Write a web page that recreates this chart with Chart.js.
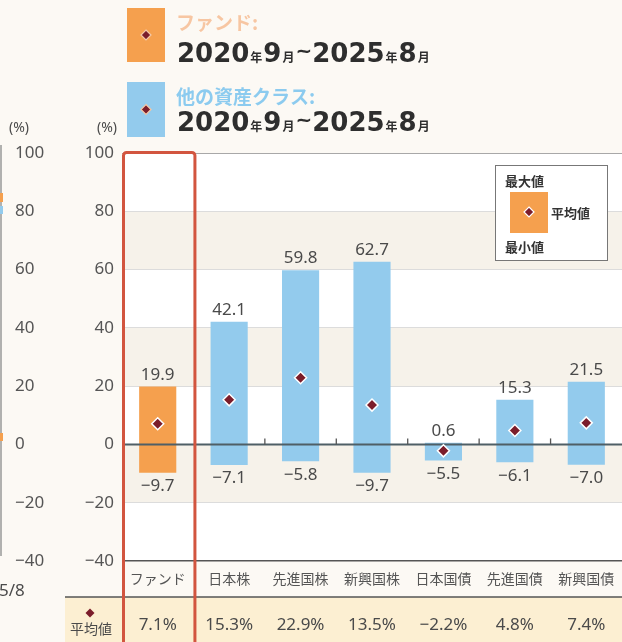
<!DOCTYPE html>
<html>
<head>
<meta charset="utf-8">
<script src="https://cdn.jsdelivr.net/npm/chart.js@4/dist/chart.umd.min.js"></script>
<style>
  html, body { margin: 0; padding: 0; background: #fcf9f4; }
  #wrap { width: 622px; height: 642px; position: relative; }
</style>
</head>
<body>
<div id="wrap"><canvas id="rangeChart"></canvas></div>
<script>
/* ---------- data ---------- */
const CATEGORIES  = ['ファンド', '日本株', '先進国株', '新興国株', '日本国債', '先進国債', '新興国債'];
const MAX_VALUES  = [19.9, 42.1, 59.8, 62.7, 0.6, 15.3, 21.5];
const MIN_VALUES  = [-9.7, -7.1, -5.8, -9.7, -5.5, -6.1, -7.0];
const MEAN_VALUES = [7.1, 15.3, 22.9, 13.5, -2.2, 4.8, 7.4];
const Y_TICKS     = [100, 80, 60, 40, 20, 0, -20, -40];
const HEADER_LABELS = ['ファンド:', '他の資産クラス:'];
const PERIOD      = ['2020', '年', '9', '月', '~', '2025', '年', '8', '月'];
const LEGEND_TEXT = ['最大値', '平均値', '最小値'];

/* ---------- colours ---------- */
const COLORS = {
  page    : '#fcf9f4',
  stripe  : '#f6f2ea',
  fund    : '#f5a04e',
  other   : '#93cbed',
  diamond : '#7b1d2b',
  text    : '#4a4a4a',
  zero    : '#4f5f66',
  meanRow : '#fcefd2',
  redBox  : '#d2553f',
  fundHdr : '#f7c6a2',
  otherHdr: '#8ccbef'
};

/* ---------- tiny utils ---------- */
const fmt  = v => (v < 0 ? '−' : '') + Math.abs(v).toFixed(1);
const tick = v => (v < 0 ? '−' + Math.abs(v) : String(v));
const JP   = '"Noto Sans CJK JP", "Noto Sans", sans-serif';
const NUM  = '"Noto Sans", "DejaVu Sans", sans-serif';

const diamond = (ctx, x, y, r, fill, stroke) => {
  ctx.beginPath();
  ctx.moveTo(x, y - r); ctx.lineTo(x + r, y); ctx.lineTo(x, y + r); ctx.lineTo(x - r, y);
  ctx.closePath();
  ctx.fillStyle = fill; ctx.fill();
  if (stroke) { ctx.strokeStyle = stroke; ctx.lineWidth = 1.2; ctx.stroke(); }
};

/* ---------- background: page, stripes, mean row ---------- */
const backdrop = {
  id: 'backdrop',
  beforeDraw(chart) {
    const { ctx, chartArea: a, scales: { y, x2 } } = chart;
    ctx.save();
    ctx.fillStyle = COLORS.page;
    ctx.fillRect(0, 0, chart.width, chart.height);
    for (let i = 0; i < Y_TICKS.length - 1; i++) {
      const t = y.getPixelForValue(Y_TICKS[i]), b = y.getPixelForValue(Y_TICKS[i + 1]);
      ctx.fillStyle = i % 2 ? COLORS.stripe : '#ffffff';
      ctx.fillRect(a.left, t, a.right - a.left, b - t);
    }
    ctx.fillStyle = COLORS.meanRow;
    ctx.fillRect(65, x2.top, chart.width - 65, x2.bottom - x2.top);
    ctx.restore();
  },
  afterDatasetDraw(chart, args) {
    if (args.index !== 0) return;
    const { ctx, chartArea: a, scales: { x, y } } = chart;
    const y0 = y.getPixelForValue(0);
    ctx.save();
    ctx.strokeStyle = COLORS.zero; ctx.lineWidth = 2;
    ctx.beginPath(); ctx.moveTo(a.left, y0); ctx.lineTo(a.right, y0); ctx.stroke();
    // little ticks at category boundaries on the zero line
    ctx.lineWidth = 1.3; ctx.strokeStyle = '#555';
    for (let i = 2; i < CATEGORIES.length; i++) {
      const bx = (x.getPixelForValue(i - 1) + x.getPixelForValue(i)) / 2;
      ctx.beginPath(); ctx.moveTo(bx, y0 - 6); ctx.lineTo(bx, y0); ctx.stroke();
    }
    ctx.restore();
  }
};

/* ---------- decorations: labels, legend, header, frame ---------- */
const decor = {
  id: 'decor',
  afterDraw(chart) {
    const { ctx, chartArea: a, scales: { x, y, x2 } } = chart;
    ctx.save();

    /* max / min value labels */
    const bars = chart.getDatasetMeta(0).data;
    ctx.font = `17px ${NUM}`; ctx.fillStyle = COLORS.text; ctx.textAlign = 'center';
    bars.forEach((bar, i) => {
      ctx.textBaseline = 'bottom';
      ctx.fillText(fmt(MAX_VALUES[i]), bar.x, y.getPixelForValue(MAX_VALUES[i]) - 3);
      ctx.textBaseline = 'top';
      ctx.fillText(fmt(MIN_VALUES[i]), bar.x, y.getPixelForValue(MIN_VALUES[i]) + 5);
    });

    /* row separator above mean row */
    ctx.strokeStyle = '#555'; ctx.lineWidth = 1.5;
    ctx.beginPath(); ctx.moveTo(65, x2.top); ctx.lineTo(chart.width, x2.top); ctx.stroke();

    /* mean row caption */
    diamond(ctx, 90, x2.top + 16, 4.5, COLORS.diamond);
    ctx.font = `14px ${JP}`; ctx.fillStyle = COLORS.text;
    ctx.textAlign = 'center'; ctx.textBaseline = 'middle';
    ctx.fillText('平均値', 91, x2.top + 32);

    /* (%) units */
    ctx.font = `14px ${NUM}`; ctx.textBaseline = 'middle';
    ctx.textAlign = 'right'; ctx.fillText('(%)', y.right - 5, 128);
    ctx.textAlign = 'left';  ctx.fillText('(%)', 9, 128);

    /* remnants of the neighbouring chart on the left */
    ctx.strokeStyle = '#999'; ctx.lineWidth = 1.5;
    ctx.beginPath(); ctx.moveTo(1, 145); ctx.lineTo(1, 556); ctx.stroke();
    ctx.fillStyle = COLORS.fund;  ctx.fillRect(0, 193, 3, 9); ctx.fillRect(0, 433, 3, 8);
    ctx.fillStyle = COLORS.other; ctx.fillRect(0, 206, 3, 8);
    ctx.font = `17px ${NUM}`; ctx.fillStyle = COLORS.text;
    ctx.textAlign = 'left'; ctx.textBaseline = 'middle';
    ctx.fillText('5/8', -1, 591);

    /* legend box */
    const lx = a.right - 127, ly = a.top + 12;
    ctx.fillStyle = '#ffffff'; ctx.fillRect(lx, ly, 112, 95);
    ctx.strokeStyle = '#777'; ctx.lineWidth = 1; ctx.strokeRect(lx + 0.5, ly + 0.5, 112, 95);
    ctx.fillStyle = COLORS.fund; ctx.fillRect(lx + 15, ly + 27, 38, 41);
    diamond(ctx, lx + 34, ly + 47, 5, COLORS.diamond, '#fff');
    ctx.font = `bold 13px ${JP}`; ctx.fillStyle = '#333';
    ctx.textAlign = 'left'; ctx.textBaseline = 'middle';
    ctx.fillText(LEGEND_TEXT[0], lx + 10, ly + 16);
    ctx.fillText(LEGEND_TEXT[1], lx + 56, ly + 48);
    ctx.fillText(LEGEND_TEXT[2], lx + 10, ly + 82);

    /* header keys */
    const keys = [
      { top: 8,  h: 54, fill: COLORS.fund,  col: COLORS.fundHdr,  lab: HEADER_LABELS[0], lb: 30,  db: 62 },
      { top: 82, h: 55, fill: COLORS.other, col: COLORS.otherHdr, lab: HEADER_LABELS[1], lb: 104, db: 131 }
    ];
    keys.forEach(k => {
      ctx.fillStyle = k.fill; ctx.fillRect(127, k.top, 38, k.h);
      diamond(ctx, 146, k.top + k.h / 2, 5, COLORS.diamond, '#f3c9a8');
      ctx.font = `bold 19px ${JP}`; ctx.fillStyle = k.col;
      ctx.textAlign = 'left'; ctx.textBaseline = 'alphabetic';
      ctx.fillText(k.lab, 176, k.lb);
      let px = 177;
      PERIOD.forEach(part => {
        const big = /\d/.test(part), tilde = part === '~';
        ctx.font = big ? 'bold 26px "DejaVu Sans", sans-serif'
                 : tilde ? 'bold 20px "DejaVu Sans", sans-serif'
                 : `bold 12px ${JP}`;
        ctx.fillStyle = '#2e2e2e';
        const gap = big || tilde ? 0 : 1;
        ctx.fillText(part, px + gap, tilde ? k.db - 5 : k.db);
        px += ctx.measureText(part).width + gap * 2;
      });
    });

    /* red frame around the fund column */
    const half = (x.getPixelForValue(1) - x.getPixelForValue(0)) / 2;
    const fx0 = x.getPixelForValue(0) - half + 1.5, fx1 = x.getPixelForValue(0) + half + 1.5;
    ctx.strokeStyle = COLORS.redBox; ctx.lineWidth = 3;
    ctx.beginPath();
    ctx.roundRect(fx0, a.top - 0.5, fx1 - fx0, chart.height + 20 - a.top, 3);
    ctx.stroke();

    ctx.restore();
  }
};

/* ---------- chart ---------- */
new Chart(document.getElementById('rangeChart'), {
  type: 'bar',
  data: {
    labels: CATEGORIES,
    datasets: [
      {
        label: 'range',
        data: CATEGORIES.map((_, i) => [MIN_VALUES[i], MAX_VALUES[i]]),
        backgroundColor: CATEGORIES.map((_, i) => i === 0 ? COLORS.fund : COLORS.other),
        borderWidth: 0,
        barPercentage: 0.52,
        categoryPercentage: 1,
        order: 2
      },
      {
        type: 'line',
        label: 'mean',
        data: MEAN_VALUES,
        showLine: false,
        pointStyle: 'rectRot',
        pointRadius: 6,
        pointHoverRadius: 6,
        pointBackgroundColor: COLORS.diamond,
        pointBorderColor: '#ffffff',
        pointBorderWidth: 1.5,
        order: 1
      }
    ]
  },
  options: {
    responsive: true,
    maintainAspectRatio: false,
    animation: false,
    devicePixelRatio: 1,
    layout: { autoPadding: false, padding: { top: 153, left: 15, right: 0, bottom: 0 } },
    plugins: { legend: { display: false }, tooltip: { enabled: false } },
    scales: {
      x: {
        position: 'bottom',
        grid: { display: false, drawTicks: false },
        border: { display: false },
        ticks: { font: { family: JP, size: 14, lineHeight: '36px' }, color: '#555', padding: 0, autoSkip: false, maxRotation: 0 },
        afterFit: s => { s.height = 36; }
      },
      x2: {
        type: 'category',
        position: 'bottom',
        weight: 1,
        offset: true,
        labels: MEAN_VALUES.map(v => fmt(v) + '%'),
        grid: { display: false, drawTicks: false },
        border: { display: false },
        ticks: { font: { family: NUM, size: 17, lineHeight: '57px' }, color: COLORS.text, padding: 0, autoSkip: false, maxRotation: 0 },
        afterFit: s => { s.height = 45; }
      },
      y: {
        position: 'left',
        min: -40, max: 100,
        afterBuildTicks: s => { s.ticks = Y_TICKS.map(v => ({ value: v })); },
        grid: {
          drawTicks: false,
          color: c => c.tick.value === 0 ? 'rgba(0,0,0,0)'
                    : c.tick.value === -40 ? '#555'
                    : c.tick.value === 100 ? '#a8a8a8' : '#dcdcdc',
          lineWidth: c => c.tick.value === -40 ? 1.5 : 1
        },
        border: { display: false },
        ticks: { callback: tick, font: { family: NUM, size: 17 }, color: '#555', padding: 8 },
        afterFit: s => { s.width = 72; }
      },
      y2: {
        position: 'left',
        weight: 1,
        min: -40, max: 100,
        afterBuildTicks: s => { s.ticks = Y_TICKS.map(v => ({ value: v })); },
        grid: { display: false, drawTicks: false },
        border: { display: false },
        ticks: { callback: tick, font: { family: NUM, size: 17 }, color: '#555', crossAlign: 'far', padding: 0 },
        afterFit: s => { s.width = 35; }
      }
    }
  },
  plugins: [backdrop, decor]
});
</script>
</body>
</html>
